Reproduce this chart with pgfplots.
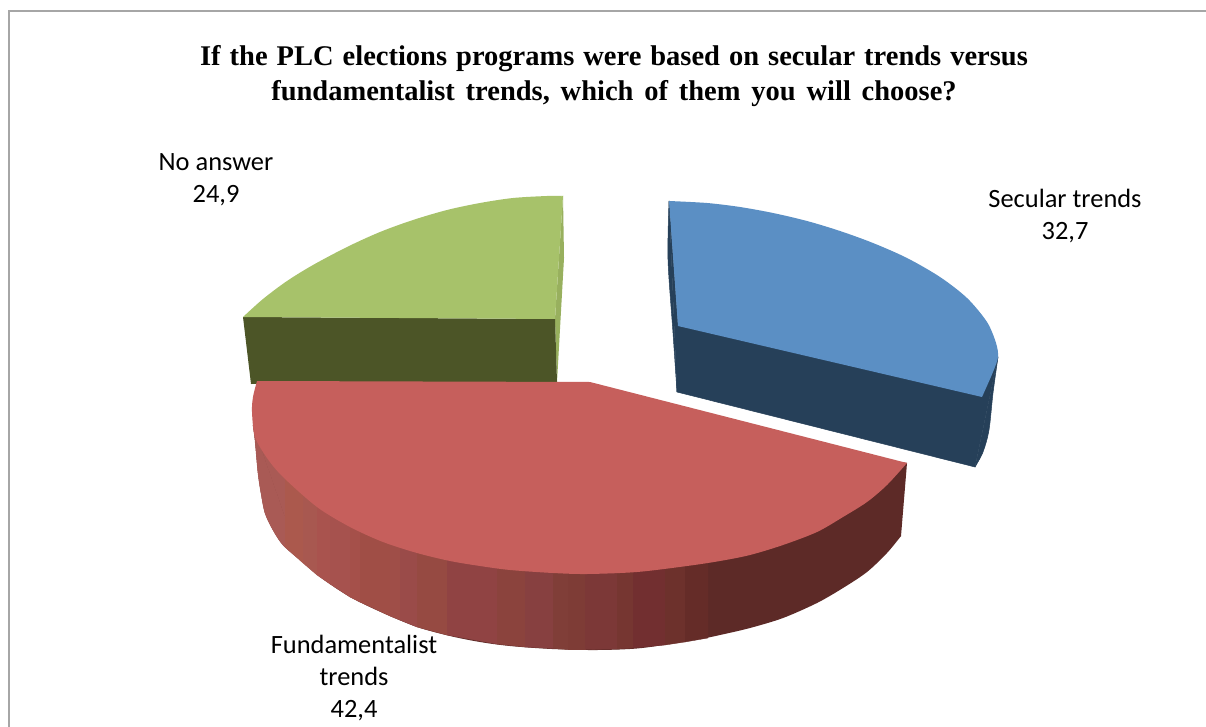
\documentclass[border=0pt]{standalone}
\usepackage{pgfplots}
\pgfplotsset{compat=1.18}
\usepackage{fontspec}
\setmainfont{Carlito}
\newfontfamily\titlefont{Liberation Serif}

\definecolor{frame}{HTML}{A6A6A6}
\definecolor{bluetop}{HTML}{5B8FC4}
\definecolor{blueside}{HTML}{264059}
\definecolor{greentop}{HTML}{A7C26A}
\definecolor{greenside}{HTML}{4C5527}
\definecolor{greenedge}{HTML}{98B05E}
\definecolor{redtop}{HTML}{C65F5C}
\definecolor{redside}{HTML}{5D2A27}
\definecolor{sA}{HTML}{A95A55}
\definecolor{sB}{HTML}{AB594D}
\definecolor{sC}{HTML}{A85850}
\definecolor{sD}{HTML}{A9534E}
\definecolor{sE}{HTML}{A6524E}
\definecolor{sF}{HTML}{A5504A}
\definecolor{sG}{HTML}{A04E46}
\definecolor{sH}{HTML}{9F4E48}
\definecolor{sI}{HTML}{9A4B49}
\definecolor{sJ}{HTML}{964A42}
\definecolor{sK}{HTML}{904343}
\definecolor{sL}{HTML}{8B433D}
\definecolor{sM}{HTML}{874040}
\definecolor{sN}{HTML}{803E38}
\definecolor{sO}{HTML}{7E3C36}
\definecolor{sP}{HTML}{7C3837}
\definecolor{sQ}{HTML}{763631}
\definecolor{sR}{HTML}{722F30}
\definecolor{sS}{HTML}{6D312C}
\definecolor{sT}{HTML}{652C28}

% one vertical band of the shaded red wall: colour, top y, x0, bottom y0, x1, bottom y1
\newcommand{\band}[6]{\addplot[fill=#1,draw=#1,line width=0.3pt] coordinates {(#3,#2) (#5,#2) (#5,#6) (#3,#4)};}

\begin{document}
\begin{tikzpicture}
\begin{axis}[
    scale only axis,
    width=1206pt,
    height=727pt,
    xmin=0, xmax=1206,
    ymin=0, ymax=727,
    y dir=reverse,
    hide axis,
    clip=true,
]
% page background, keeps the bounding box at the full axis
\addplot[fill=white,draw=none] coordinates {(0,0) (1206,0) (1206,727) (0,727)};
% chart frame
\addplot[frame,line width=2pt] coordinates {(9,727) (9,11) (1206,11)};

% each face: a smooth fill for the rim, an overlapping straight polygon for the rest
% No answer
\addplot[fill=greenedge,draw=none] coordinates {(563,196) (564,258) (557,382) (555,319)};
\addplot[fill=greenside,draw=none] coordinates {(243,317) (555,319) (557,382) (251,384)};
\addplot[fill=greentop,draw=none,smooth] coordinates {(563,196) (547,196) (513,198) (480,203) (447,210) (413,220) (380,232) (347,247) (313,265) (287,281) (263,299) (243,317)};
\addplot[fill=greentop,draw=none] coordinates {(563,196) (450,225) (300,290) (243,317) (555,319)};

% Secular trends
\addplot[fill=blueside,draw=blueside,line width=0.5pt,smooth] coordinates {(669,201) (668,260) (673,333) (677,392)};
\addplot[fill=blueside,draw=blueside,line width=0.5pt,smooth] coordinates {(998,357) (993,393) (989,430) (983,452) (975,467)};
\addplot[fill=blueside,draw=blueside,line width=0.5pt] coordinates {(669,201) (677,392) (975,467) (998,357) (678,326) (669,201)};
\addplot[fill=bluetop,draw=none,smooth] coordinates {(669,201) (707,203) (740,207) (773,213) (807,221) (840,231) (873,243) (907,258) (940,277) (967,298) (987,322) (996,343) (998,357) (993,372) (982,397)};
\addplot[fill=bluetop,draw=none] coordinates {(669,201) (820,240) (960,310) (982,397) (678,326)};

% Fundamentalist trends, wall
\addplot[fill=redside,draw=none,smooth] coordinates {(253,425) (255,440) (258,473) (261,493) (265,513) (273,530) (283,545) (300,560) (320,577) (350,597) (383,613) (417,627) (450,636) (480,642) (510,646) (552,649) (597,650) (642,648) (700,639) (720,635) (750,628) (783,618) (817,603) (843,588) (867,572) (887,553) (901,536)};
\addplot[fill=redside,draw=none] coordinates {(253,425) (400,600) (600,640) (800,590) (901,536) (907,463) (590,420)};
\addplot[fill=sA,draw=sA,line width=0.5pt,smooth] coordinates {(253,425) (255,440) (258,473) (261,493) (265,513) (273,530) (283,545) (300,560)};
\addplot[fill=sA,draw=sA,line width=0.5pt] coordinates {(253,425) (300,560) (300,425) (253,425)};
\band{sB}{470}{285}{546}{303}{563}
\band{sC}{490}{303}{563}{317}{575}
\band{sD}{500}{317}{575}{330}{584}
\band{sE}{500}{330}{584}{350}{597}
\band{sF}{500}{350}{597}{360}{602}
\band{sG}{500}{360}{602}{390}{616}
\band{sH}{500}{390}{616}{400}{620}
\band{sI}{500}{400}{620}{417}{627}
\band{sJ}{500}{417}{627}{447}{635}
\band{sK}{500}{447}{635}{497}{644}
\band{sL}{500}{497}{644}{525}{647}
\band{sM}{500}{525}{647}{553}{648.5}
\band{sN}{500}{553}{648.5}{568}{649.5}
\band{sO}{500}{568}{649.5}{585}{649.5}
\band{sP}{500}{585}{649.5}{617}{649}
\band{sQ}{500}{617}{649}{633}{648}
\band{sR}{500}{633}{648}{665}{645}
\band{sS}{500}{665}{645}{685}{642}
\band{sT}{500}{685}{642}{708}{638}
% Fundamentalist trends, top
\addplot[fill=redtop,draw=none,smooth] coordinates {(257,381) (253,397) (252,412) (255,437) (267,458) (283,477) (317,507) (350,527) (383,542) (417,553) (450,561) (480,566) (510,570) (553,573) (587,574) (637,572) (687,566) (720,561) (750,555) (783,545) (817,532) (843,517) (867,502) (887,485) (907,463)};
\addplot[fill=redtop,draw=none] coordinates {(257,381) (270,440) (400,530) (590,565) (800,520) (907,463) (590,382)};

% title and data labels
\node[font=\titlefont\bfseries\fontsize{28.5}{35}\selectfont,align=center,text=black] at (axis cs:614,76) {\spaceskip=9pt If the PLC elections programs were based on secular trends versus\\\spaceskip=10.8pt fundamentalist trends, which of them you will choose?};
\node[font=\fontsize{26.4}{32}\selectfont,align=center,text=black] at (axis cs:216,180) {No answer\\24,9};
\node[font=\fontsize{26.4}{32}\selectfont,align=center,text=black] at (axis cs:1065,216) {Secular trends\\32,7};
\node[font=\fontsize{26.4}{32}\selectfont,align=center,text=black] at (axis cs:354,678) {Fundamentalist\\trends\\42,4};
\end{axis}
\end{tikzpicture}
\end{document}
